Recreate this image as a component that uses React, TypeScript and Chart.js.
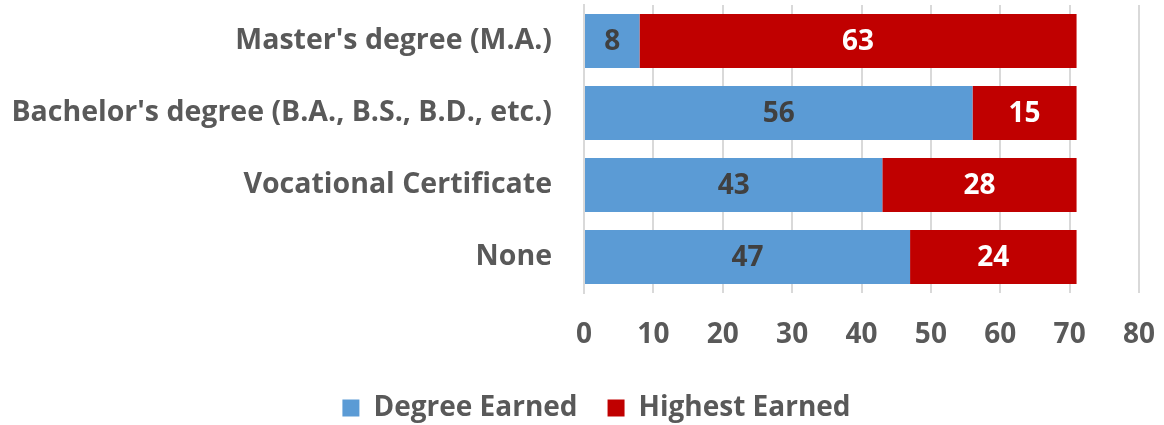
import React, { useEffect, useRef } from "react";
import { Chart, registerables } from "chart.js";

Chart.register(...registerables);

const categories = [
  "Master's degree (M.A.)",
  "Bachelor's degree (B.A., B.S., B.D., etc.)",
  "Vocational Certificate",
  "None",
];
const degreeEarned = [8, 56, 43, 47];
const highestEarned = [63, 15, 28, 24];
const xTicks = [0, 10, 20, 30, 40, 50, 60, 70, 80];

const FONT = "'Open Sans', 'Liberation Sans', sans-serif";

const barLabels = {
  id: "barLabels",
  afterDatasetsDraw(chart: any) {
    const ctx = chart.ctx;
    ctx.save();
    ctx.font = `bold 28px ${FONT}`;
    ctx.textAlign = "center";
    ctx.textBaseline = "middle";
    chart.data.datasets.forEach((ds: any, di: number) => {
      const meta = chart.getDatasetMeta(di);
      meta.data.forEach((bar: any, i: number) => {
        const v = ds.data[i];
        const x = (bar.x + bar.base) / 2;
        ctx.fillStyle = di === 0 ? "#404040" : "#FFFFFF";
        ctx.fillText(String(v), x, bar.y + 1);
      });
    });
    ctx.restore();
  },
};

const legendShift = {
  id: "legendShift",
  afterLayout(chart: any) {
    if (chart.legend) {
      chart.legend.left += 27;
      chart.legend.right += 27;
      chart.legend.top += 7;
      chart.legend.bottom += 7;
    }
  },
};

export default function App() {
  const ref = useRef<HTMLCanvasElement | null>(null);
  useEffect(() => {
    document.body.style.margin = "0";
    const chart = new Chart(ref.current as HTMLCanvasElement, {
      type: "bar",
      data: {
        labels: categories,
        datasets: [
          {
            label: "Degree Earned",
            data: degreeEarned,
            backgroundColor: "#5B9BD5",
            categoryPercentage: 0.75,
            barPercentage: 1,
          },
          {
            label: "Highest Earned",
            data: highestEarned,
            backgroundColor: "#C00000",
            categoryPercentage: 0.75,
            barPercentage: 1,
          },
        ],
      },
      options: {
        indexAxis: "y",
        animation: false,
        responsive: false,
        layout: { padding: { top: 5, right: 25, left: 0, bottom: 0 } },
        scales: {
          x: {
            stacked: true,
            min: 0,
            max: 80,
            afterBuildTicks: (axis: any) => {
              axis.ticks = xTicks.map((v) => ({ value: v }));
            },
            afterFit: (axis: any) => {
              axis.height = 64;
              axis.paddingLeft = 0;
              axis.paddingRight = 17;
            },
            grid: {
              color: "#D9D9D9",
              lineWidth: 2,
              drawTicks: false,
            },
            border: { display: false },
            ticks: {
              padding: 25,
              color: "#595959",
              font: { family: FONT, size: 28, weight: "bold" },
            },
          },
          y: {
            stacked: true,
            afterFit: (axis: any) => {
              axis.width = 584;
              axis.paddingTop = 0;
              axis.paddingBottom = 0;
            },
            grid: { display: false, drawTicks: false },
            border: { display: true, color: "#D9D9D9", width: 2 },
            ticks: {
              padding: 32,
              color: "#595959",
              font: { family: FONT, size: 28.5, weight: "bold" },
            },
          },
        },
        plugins: {
          legend: {
            position: "bottom",
            labels: {
              boxWidth: 17,
              boxHeight: 17,
              padding: 30,
              color: "#595959",
              font: { family: FONT, size: 28, weight: "bold" },
            },
          },
          tooltip: { enabled: false },
        },
      },
      plugins: [barLabels, legendShift],
    } as any);
    return () => chart.destroy();
  }, []);
  return (
    <div style={{ width: 1164, height: 425 }}>
      <canvas ref={ref} width={1164} height={425} />
    </div>
  );
}
